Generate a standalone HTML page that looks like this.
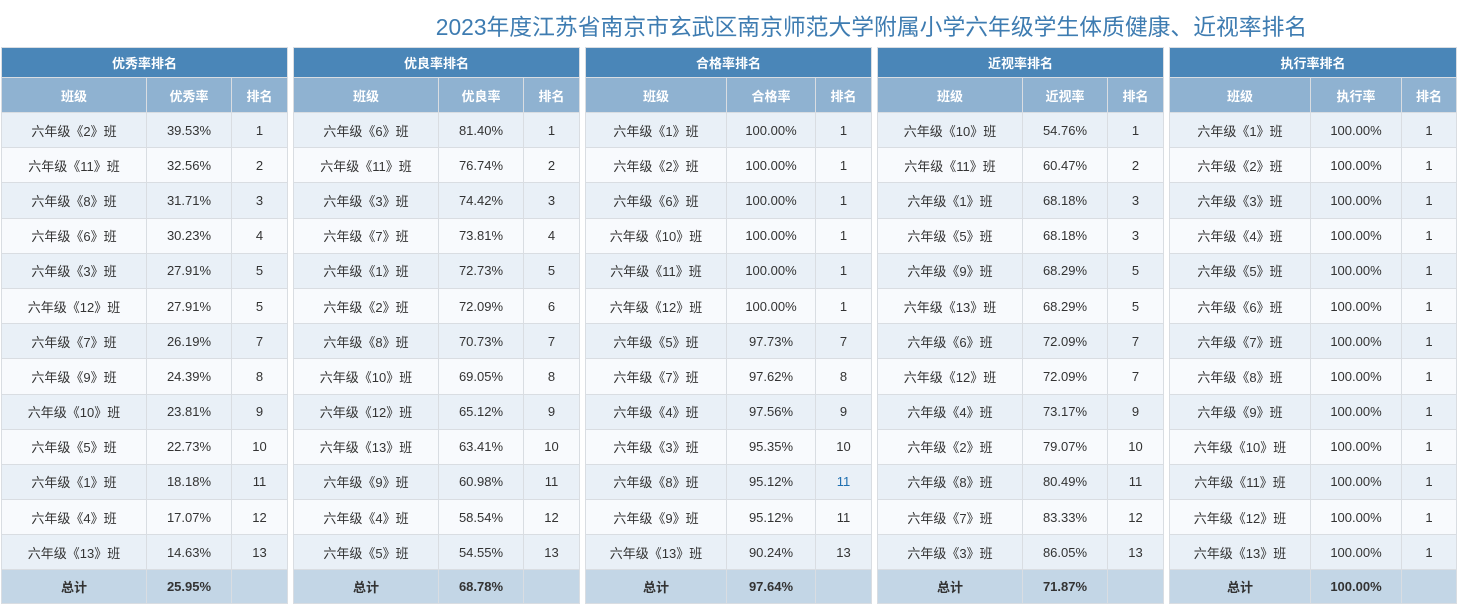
<!DOCTYPE html>
<html><head><meta charset="utf-8"><style>
body{margin:0;width:1457px;height:606px;background:#fff;font-family:"Liberation Sans","Noto Sans CJK SC",sans-serif;overflow:hidden;position:relative}
h1{position:absolute;top:9px;left:0;width:1743px;margin:0;text-align:center;font-weight:normal;font-size:22.8px;color:#3e7cb1;}
table{position:absolute;top:47px;width:286px;border-collapse:collapse;table-layout:fixed;font-size:13px;color:#333}
td,th{border:1px solid #d9dde2;text-align:center;padding:0}
th{color:#fff;font-weight:bold}
tr.a th{background:#4a86b8;height:29px}
tr.b th{background:#8fb2d1;height:34px}
tr.d td{height:34.2px}
tr.d:nth-child(odd) td{background:#e9f0f7}
tr.d:nth-child(even) td{background:#f8fafd}
tr.t td{background:#c3d6e6;font-weight:bold;height:33px}
.bl{color:#1e6fb0}
</style></head><body>
<h1>2023年度江苏省南京市玄武区南京师范大学附属小学六年级学生体质健康、近视率排名</h1>

<table style="left:1px"><colgroup><col style="width:145px"><col style="width:85px"><col style="width:56px"></colgroup><tbody>
<tr class="a"><th colspan="3">优秀率排名</th></tr>
<tr class="b"><th>班级</th><th>优秀率</th><th>排名</th></tr>
<tr class="d"><td>六年级《2》班</td><td>39.53%</td><td>1</td></tr>
<tr class="d"><td>六年级《11》班</td><td>32.56%</td><td>2</td></tr>
<tr class="d"><td>六年级《8》班</td><td>31.71%</td><td>3</td></tr>
<tr class="d"><td>六年级《6》班</td><td>30.23%</td><td>4</td></tr>
<tr class="d"><td>六年级《3》班</td><td>27.91%</td><td>5</td></tr>
<tr class="d"><td>六年级《12》班</td><td>27.91%</td><td>5</td></tr>
<tr class="d"><td>六年级《7》班</td><td>26.19%</td><td>7</td></tr>
<tr class="d"><td>六年级《9》班</td><td>24.39%</td><td>8</td></tr>
<tr class="d"><td>六年级《10》班</td><td>23.81%</td><td>9</td></tr>
<tr class="d"><td>六年级《5》班</td><td>22.73%</td><td>10</td></tr>
<tr class="d"><td>六年级《1》班</td><td>18.18%</td><td>11</td></tr>
<tr class="d"><td>六年级《4》班</td><td>17.07%</td><td>12</td></tr>
<tr class="d"><td>六年级《13》班</td><td>14.63%</td><td>13</td></tr>
<tr class="t"><td>总计</td><td>25.95%</td><td></td></tr>
</tbody></table>

<table style="left:293px"><colgroup><col style="width:145px"><col style="width:85px"><col style="width:56px"></colgroup><tbody>
<tr class="a"><th colspan="3">优良率排名</th></tr>
<tr class="b"><th>班级</th><th>优良率</th><th>排名</th></tr>
<tr class="d"><td>六年级《6》班</td><td>81.40%</td><td>1</td></tr>
<tr class="d"><td>六年级《11》班</td><td>76.74%</td><td>2</td></tr>
<tr class="d"><td>六年级《3》班</td><td>74.42%</td><td>3</td></tr>
<tr class="d"><td>六年级《7》班</td><td>73.81%</td><td>4</td></tr>
<tr class="d"><td>六年级《1》班</td><td>72.73%</td><td>5</td></tr>
<tr class="d"><td>六年级《2》班</td><td>72.09%</td><td>6</td></tr>
<tr class="d"><td>六年级《8》班</td><td>70.73%</td><td>7</td></tr>
<tr class="d"><td>六年级《10》班</td><td>69.05%</td><td>8</td></tr>
<tr class="d"><td>六年级《12》班</td><td>65.12%</td><td>9</td></tr>
<tr class="d"><td>六年级《13》班</td><td>63.41%</td><td>10</td></tr>
<tr class="d"><td>六年级《9》班</td><td>60.98%</td><td>11</td></tr>
<tr class="d"><td>六年级《4》班</td><td>58.54%</td><td>12</td></tr>
<tr class="d"><td>六年级《5》班</td><td>54.55%</td><td>13</td></tr>
<tr class="t"><td>总计</td><td>68.78%</td><td></td></tr>
</tbody></table>

<table style="left:585px"><colgroup><col style="width:141px"><col style="width:89px"><col style="width:56px"></colgroup><tbody>
<tr class="a"><th colspan="3">合格率排名</th></tr>
<tr class="b"><th>班级</th><th>合格率</th><th>排名</th></tr>
<tr class="d"><td>六年级《1》班</td><td>100.00%</td><td>1</td></tr>
<tr class="d"><td>六年级《2》班</td><td>100.00%</td><td>1</td></tr>
<tr class="d"><td>六年级《6》班</td><td>100.00%</td><td>1</td></tr>
<tr class="d"><td>六年级《10》班</td><td>100.00%</td><td>1</td></tr>
<tr class="d"><td>六年级《11》班</td><td>100.00%</td><td>1</td></tr>
<tr class="d"><td>六年级《12》班</td><td>100.00%</td><td>1</td></tr>
<tr class="d"><td>六年级《5》班</td><td>97.73%</td><td>7</td></tr>
<tr class="d"><td>六年级《7》班</td><td>97.62%</td><td>8</td></tr>
<tr class="d"><td>六年级《4》班</td><td>97.56%</td><td>9</td></tr>
<tr class="d"><td>六年级《3》班</td><td>95.35%</td><td>10</td></tr>
<tr class="d"><td>六年级《8》班</td><td>95.12%</td><td class="bl">11</td></tr>
<tr class="d"><td>六年级《9》班</td><td>95.12%</td><td>11</td></tr>
<tr class="d"><td>六年级《13》班</td><td>90.24%</td><td>13</td></tr>
<tr class="t"><td>总计</td><td>97.64%</td><td></td></tr>
</tbody></table>

<table style="left:877px"><colgroup><col style="width:145px"><col style="width:85px"><col style="width:56px"></colgroup><tbody>
<tr class="a"><th colspan="3">近视率排名</th></tr>
<tr class="b"><th>班级</th><th>近视率</th><th>排名</th></tr>
<tr class="d"><td>六年级《10》班</td><td>54.76%</td><td>1</td></tr>
<tr class="d"><td>六年级《11》班</td><td>60.47%</td><td>2</td></tr>
<tr class="d"><td>六年级《1》班</td><td>68.18%</td><td>3</td></tr>
<tr class="d"><td>六年级《5》班</td><td>68.18%</td><td>3</td></tr>
<tr class="d"><td>六年级《9》班</td><td>68.29%</td><td>5</td></tr>
<tr class="d"><td>六年级《13》班</td><td>68.29%</td><td>5</td></tr>
<tr class="d"><td>六年级《6》班</td><td>72.09%</td><td>7</td></tr>
<tr class="d"><td>六年级《12》班</td><td>72.09%</td><td>7</td></tr>
<tr class="d"><td>六年级《4》班</td><td>73.17%</td><td>9</td></tr>
<tr class="d"><td>六年级《2》班</td><td>79.07%</td><td>10</td></tr>
<tr class="d"><td>六年级《8》班</td><td>80.49%</td><td>11</td></tr>
<tr class="d"><td>六年级《7》班</td><td>83.33%</td><td>12</td></tr>
<tr class="d"><td>六年级《3》班</td><td>86.05%</td><td>13</td></tr>
<tr class="t"><td>总计</td><td>71.87%</td><td></td></tr>
</tbody></table>

<table style="left:1169px"><colgroup><col style="width:141px"><col style="width:91px"><col style="width:55px"></colgroup><tbody>
<tr class="a"><th colspan="3">执行率排名</th></tr>
<tr class="b"><th>班级</th><th>执行率</th><th>排名</th></tr>
<tr class="d"><td>六年级《1》班</td><td>100.00%</td><td>1</td></tr>
<tr class="d"><td>六年级《2》班</td><td>100.00%</td><td>1</td></tr>
<tr class="d"><td>六年级《3》班</td><td>100.00%</td><td>1</td></tr>
<tr class="d"><td>六年级《4》班</td><td>100.00%</td><td>1</td></tr>
<tr class="d"><td>六年级《5》班</td><td>100.00%</td><td>1</td></tr>
<tr class="d"><td>六年级《6》班</td><td>100.00%</td><td>1</td></tr>
<tr class="d"><td>六年级《7》班</td><td>100.00%</td><td>1</td></tr>
<tr class="d"><td>六年级《8》班</td><td>100.00%</td><td>1</td></tr>
<tr class="d"><td>六年级《9》班</td><td>100.00%</td><td>1</td></tr>
<tr class="d"><td>六年级《10》班</td><td>100.00%</td><td>1</td></tr>
<tr class="d"><td>六年级《11》班</td><td>100.00%</td><td>1</td></tr>
<tr class="d"><td>六年级《12》班</td><td>100.00%</td><td>1</td></tr>
<tr class="d"><td>六年级《13》班</td><td>100.00%</td><td>1</td></tr>
<tr class="t"><td>总计</td><td>100.00%</td><td></td></tr>
</tbody></table>
</body></html>
